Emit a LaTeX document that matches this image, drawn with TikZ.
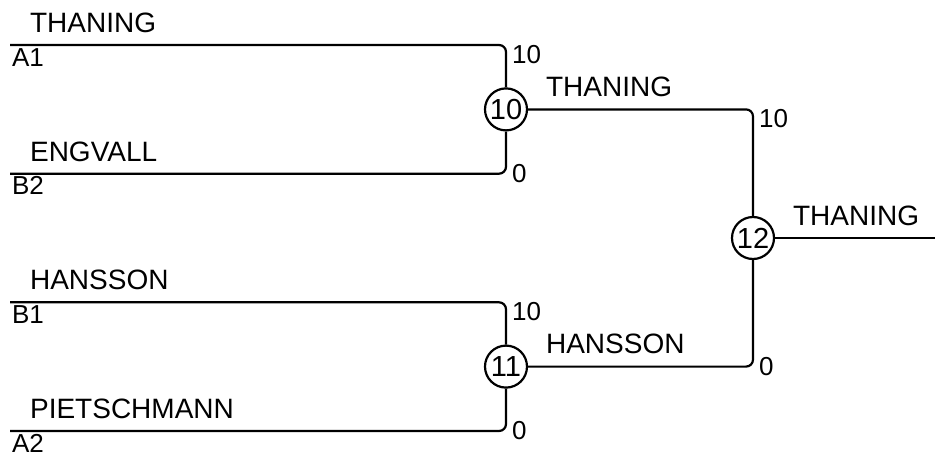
\documentclass[tikz,border=0pt]{standalone}
\usepackage{fontspec}
\setmainfont{Liberation Sans}
\begin{document}
\begin{tikzpicture}[x=1pt, y=-1pt, line width=2.2pt, rounded corners=7pt,
  every node/.style={font=\fontsize{26}{30}\selectfont, inner sep=0pt},
  player/.style={font=\fontsize{28}{30}\selectfont, anchor=base west},
  score/.style={anchor=base west},
  match/.style={draw, circle, minimum size=42pt, sharp corners, fill=white,
    font=\fontsize{29}{30}\selectfont}]
  \def\xa{506}
  \def\xb{753}
  \useasboundingbox (0,0) rectangle (935,455);
  \foreach \y/\name/\code [count=\i] in {45/THANING/A1, 173.7/ENGVALL/B2, 302.3/HANSSON/B1, 431/PIETSCHMANN/A2} {
    \coordinate (p\i) at (10,\y);
    \node [player] (name\i) at (29,\y-12.5) {\name};
    \node [score] (code\i) at (11,\y+21) {\code};
  }
  \node [match] (m10) at (\xa,109.4) {10};
  \node [match] (m11) at (\xa,366.6) {11};
  \node [match] (m12) at (\xb,238) {12};
  \coordinate (out) at (935,238);
  \draw (p1) -| (m10);
  \draw (p2) -| (m10);
  \draw (p3) -| (m11);
  \draw (p4) -| (m11);
  \draw (m10) -| (m12);
  \draw (m11) -| (m12);
  \draw (m12) -- (out);
  \node [score] (s1) at (\xa+5,63) {10};
  \node [score] (s2) at (\xa+5,182) {0};
  \node [score] (s3) at (\xa+5,320) {10};
  \node [score] (s4) at (\xa+5,439) {0};
  \node [score] (s5) at (\xb+5,127.5) {10};
  \node [score] (s6) at (\xb+5,375) {0};
  \node [player] (w10) at (545,96.5) {THANING};
  \node [player] (w11) at (545,353.5) {HANSSON};
  \node [player] (w12) at (792,225) {THANING};
\end{tikzpicture}
\end{document}
